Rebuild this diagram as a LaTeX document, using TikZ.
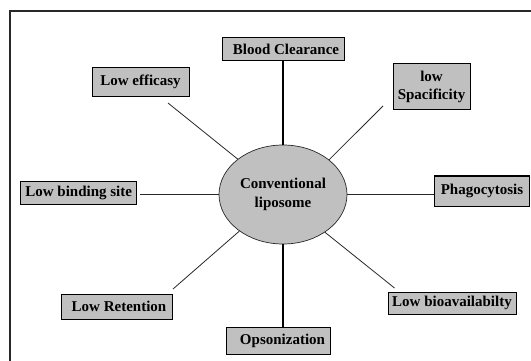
\documentclass[tikz,border=0pt]{standalone}
\usepackage{fontspec}
\setmainfont{Liberation Serif}
\usetikzlibrary{shapes.geometric}
\definecolor{boxgray}{RGB}{192,192,192}
\definecolor{linegray}{RGB}{40,40,40}
\begin{document}
\begin{tikzpicture}[x=1pt,y=-1pt,
  lab/.style={font=\bfseries\fontsize{15}{18.5}\selectfont},
  box/.style={lab,draw=black,line width=1pt,fill=boxgray,inner sep=0pt,align=center},
  spoke/.style={draw=linegray,line width=0.8pt},
  vspoke/.style={draw=black,line width=1.1pt}]
\useasboundingbox (0,0) rectangle (531,361);
\draw[draw=linegray,line width=1.2pt] (10,361) -- (10,11) -- (531,11);
% central ellipse
\node[ellipse,lab,draw=linegray,line width=0.7pt,fill=boxgray,minimum width=128pt,minimum height=99pt,inner sep=0pt,align=center] (ell) at (283,194.5) {Conventional\\liposome};
% boxes
\node[box,minimum width=122pt,minimum height=23pt] (blood) at (283,49.5) {\hspace{6pt}Blood Clearance};
\node[box,minimum width=97pt,minimum height=28.5pt] (eff) at (140.5,82) {Low efficasy};
\node[box,minimum width=77pt,minimum height=46pt] (spec) at (431.5,87) {low\\Spacificity};
\node[box,minimum width=115.5pt,minimum height=23.4pt] (bind) at (78.7,192.7) {Low binding site};
\node[box,minimum width=95.5pt,minimum height=30pt] (phago) at (482,191) {Phagocytosis};
\node[box,minimum width=111pt,minimum height=24.5pt] (ret) at (116.5,306.8) {\hspace{5pt}Low Retention};
\node[box,minimum width=104pt,minimum height=27pt] (ops) at (278,340.5) {\hspace{9pt}Opsonization};
\node[box,minimum width=128pt,minimum height=22pt] (bio) at (452,303) {Low bioavailabilty};
% free ends of slanted spokes
\coordinate (effEnd) at (168,103);
\coordinate (specEnd) at (383,106);
\coordinate (retEnd) at (173,289);
\coordinate (bioEnd) at (394.5,288);
% spokes
\draw[vspoke] (ell.north) -- (ell.north |- blood.south);
\draw[vspoke] (ell.south) -- (ell.south |- ops.north);
\draw[spoke] (ell.142) -- (effEnd);
\draw[spoke] (ell.37) -- (specEnd);
\draw[spoke] (ell.220) -- (retEnd);
\draw[spoke] (ell.318) -- (bioEnd);
\draw[spoke,shorten >=3pt] (ell.west) -- (ell.west -| bind.east);
\draw[spoke,line width=1pt] (ell.east) -- (ell.east -| phago.west);
\end{tikzpicture}
\end{document}
